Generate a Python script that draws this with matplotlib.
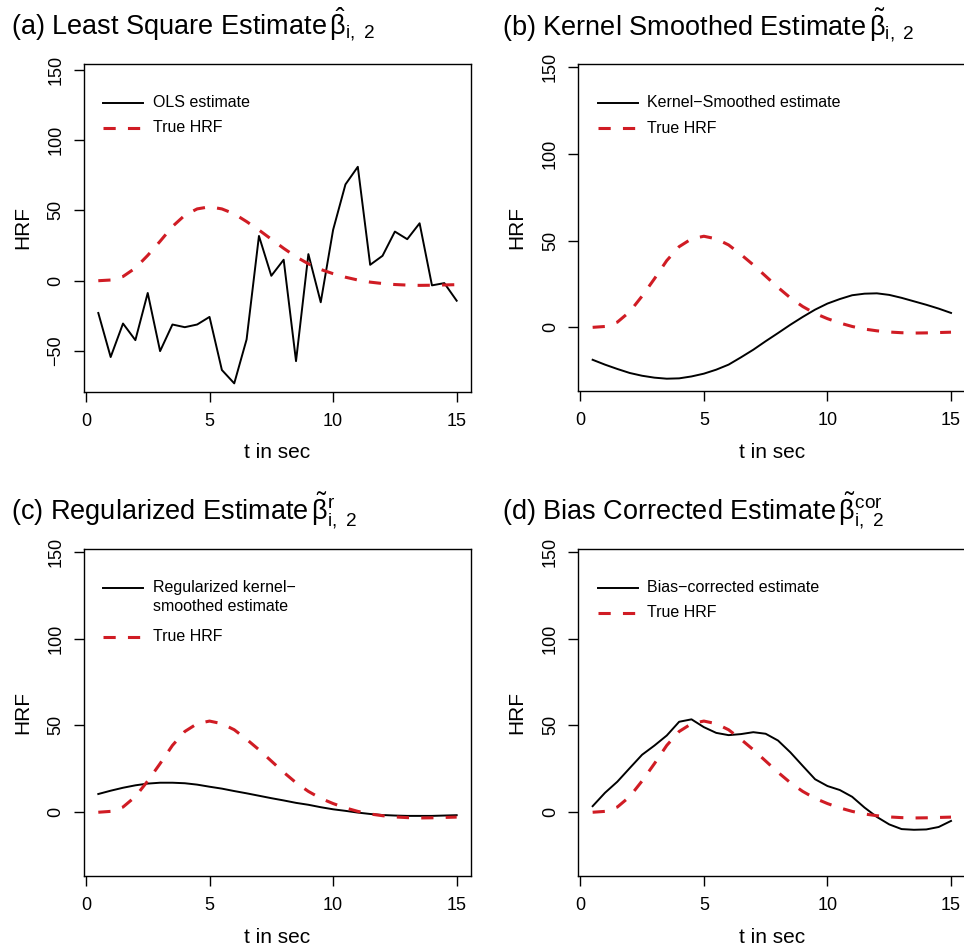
import matplotlib
matplotlib.use("Agg")
import matplotlib.pyplot as plt
from matplotlib.lines import Line2D

plt.rcParams.update({
    "font.family": ["Liberation Sans", "DejaVu Sans"],
    "mathtext.fontset": "custom",
    "mathtext.rm": "Liberation Sans",
    "mathtext.it": "Liberation Sans:italic",
    "mathtext.bf": "Liberation Sans:bold",
})

RED = "#d01c24"

# time grid (sec)
t_sec = [0.5, 1.0, 1.5, 2.0, 2.5, 3.0, 3.5, 4.0, 4.5, 5.0,
         5.5, 6.0, 6.5, 7.0, 7.5, 8.0, 8.5, 9.0, 9.5, 10.0,
         10.5, 11.0, 11.5, 12.0, 12.5, 13.0, 13.5, 14.0, 14.5, 15.0]

true_hrf = [0.0, 0.5, 3.0, 9.0, 18.0, 28.0, 38.5, 46.5, 51.0, 52.5,
            51.0, 47.5, 42.0, 36.0, 29.5, 23.0, 17.0, 12.0, 8.0, 5.0,
            2.5, 0.5, -1.0, -2.0, -2.7, -3.1, -3.3, -3.2, -3.0, -2.8]

ols_est = [-22.9, -54.2, -30.4, -42.2, -8.7, -50.0, -31.1, -33.0, -31.1, -25.7,
           -63.4, -72.9, -41.7, 31.8, 3.5, 14.9, -57.1, 18.9, -15.3, 36.1,
           68.4, 80.9, 11.3, 17.7, 34.9, 29.5, 40.8, -3.3, -1.7, -14.2]

kernel_est = [-18.7, -21.5, -24.0, -26.3, -27.9, -29.0, -29.6, -29.4, -28.3, -26.7,
              -24.4, -21.5, -17.3, -12.9, -8.0, -3.3, 1.5, 6.0, 10.2, 13.7,
              16.3, 18.5, 19.4, 19.6, 18.7, 17.0, 15.0, 13.0, 10.8, 8.3]

regular_est = [10.5, 12.4, 14.1, 15.5, 16.5, 17.0, 17.0, 16.7, 15.9, 14.7,
               13.6, 12.2, 10.9, 9.5, 8.1, 6.8, 5.4, 4.3, 2.9, 1.7,
               0.8, -0.2, -1.0, -1.6, -1.9, -2.1, -2.1, -2.1, -1.9, -1.7]

biascor_est = [3.5, 11.2, 17.6, 25.4, 33.1, 38.4, 44.2, 52.1, 53.5, 49.0,
               45.7, 44.4, 45.0, 46.1, 45.2, 41.3, 34.5, 26.7, 19.0, 15.1,
               12.8, 8.9, 2.7, -2.7, -7.0, -9.7, -10.1, -9.9, -8.5, -5.0]

panels = [
    # (axes rect, title, estimate, legend label lines, ylim, yticks)
    ([0.0871, 0.5864, 0.4015, 0.3460],
     "(a) Least Square Estimate" + r"$\,\hat{\mathrm{\beta}}_{\mathrm{i,\ 2}}$",
     ols_est, ["OLS estimate"], (-78.8, 153.9), [-50, 0, 50, 100, 150]),
    ([0.5999, 0.5871, 0.4015, 0.3450],
     "(b) Kernel Smoothed Estimate" + r"$\,\tilde{\mathrm{\beta}}_{\mathrm{i,\ 2}}$",
     kernel_est, ["Kernel\u2212Smoothed estimate"], (-36.7, 151.6), [0, 50, 100, 150]),
    ([0.0871, 0.0750, 0.4015, 0.3453],
     "(c) Regularized Estimate" + r"$\,\tilde{\mathrm{\beta}}^{\mathrm{r}}_{\mathrm{i,\ 2}}$",
     regular_est, ["Regularized kernel\u2212", "smoothed estimate"], (-36.7, 151.6), [0, 50, 100, 150]),
    ([0.5999, 0.0750, 0.4015, 0.3453],
     "(d) Bias Corrected Estimate" + r"$\,\tilde{\mathrm{\beta}}^{\mathrm{cor}}_{\mathrm{i,\ 2}}$",
     biascor_est, ["Bias\u2212corrected estimate"], (-36.7, 151.6), [0, 50, 100, 150]),
]

title_xy = [(0.0114, 0.963), (0.5204, 0.963), (0.0114, 0.452), (0.5204, 0.452)]


def add_key(ax, est_lines):
    y0 = 0.882
    ax.add_line(Line2D([0.05, 0.153], [y0, y0], transform=ax.transAxes,
                       color="black", lw=1.4))
    for i, line in enumerate(est_lines):
        ax.text(0.178, y0 - i * 0.057, line, transform=ax.transAxes,
                fontsize=11.5, va="center", ha="left")
    y1 = y0 - 0.077 - (len(est_lines) - 1) * 0.073
    ax.add_line(Line2D([0.05, 0.153], [y1, y1], transform=ax.transAxes,
                       color=RED, lw=2.2, dashes=(4, 4)))
    ax.text(0.178, y1, "True HRF", transform=ax.transAxes,
            fontsize=11.5, va="center", ha="left")


fig = plt.figure(figsize=(9.64, 9.47), dpi=100)

for (rect, title, est, key, ylim, yticks), (tx, ty) in zip(panels, title_xy):
    ax = fig.add_axes(rect)
    ax.plot(t_sec, est, color="black", lw=1.4)
    ax.plot(t_sec, true_hrf, color=RED, lw=2.2, dashes=(4, 4))
    ax.set_xlim(-0.08, 15.58)
    ax.set_ylim(*ylim)
    ax.set_xticks([0, 5, 10, 15])
    ax.set_yticks(yticks)
    ax.tick_params(direction="out", length=7, width=1.0, labelsize=13)
    ax.tick_params(axis="x", pad=8)
    ax.tick_params(axis="y", pad=7, labelrotation=90)
    for lab in ax.get_yticklabels():
        lab.set_va("center")
    for sp in ax.spines.values():
        sp.set_linewidth(1.0)
    ax.set_xlabel("t in sec", fontsize=15, labelpad=10)
    ax.set_ylabel("HRF", fontsize=15, labelpad=11)
    add_key(ax, key)
    fig.text(tx, ty, title, fontsize=19.5, ha="left", va="baseline")

fig.savefig("out.png", dpi=100)
